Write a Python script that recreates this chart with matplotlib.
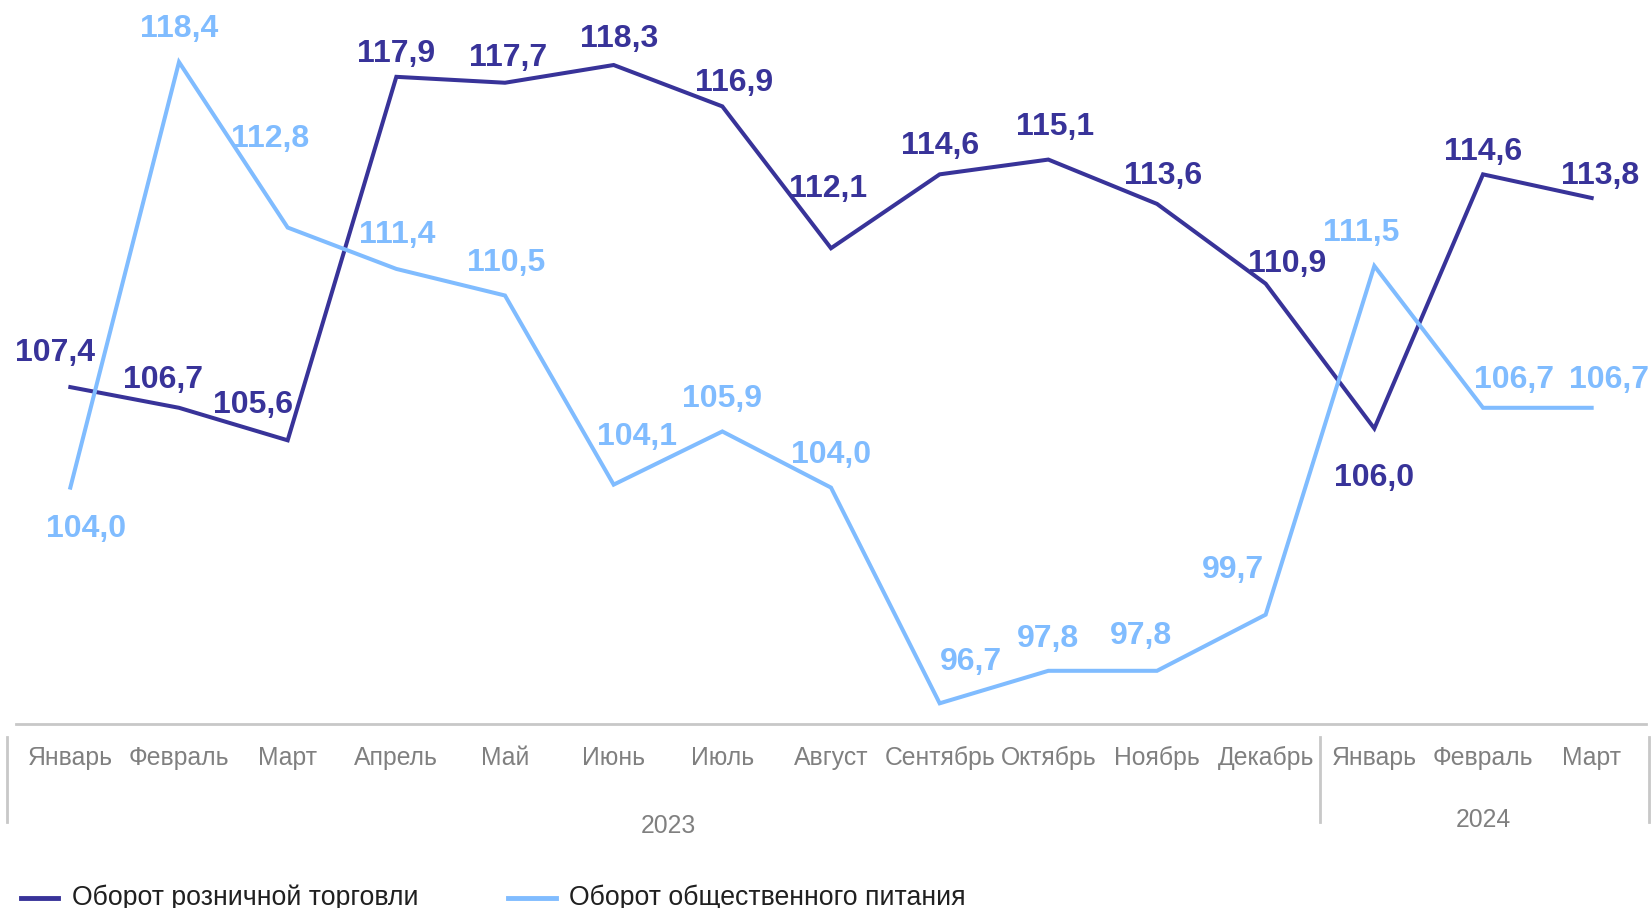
import numpy as np
import matplotlib.pyplot as plt
from matplotlib.lines import Line2D

plt.rcParams['font.family'] = ['Liberation Sans', 'DejaVu Sans']

# data
months = ['Январь', 'Февраль', 'Март', 'Апрель', 'Май', 'Июнь', 'Июль', 'Август',
          'Сентябрь', 'Октябрь', 'Ноябрь', 'Декабрь', 'Январь', 'Февраль', 'Март']
years = ['2023', '2024']
year_len = [12, 3]
retail = [107.4, 106.7, 105.6, 117.9, 117.7, 118.3, 116.9, 112.1,
          114.6, 115.1, 113.6, 110.9, 106.0, 114.6, 113.8]
catering = [104.0, 118.4, 112.8, 111.4, 110.5, 104.1, 105.9, 104.0,
            96.7, 97.8, 97.8, 99.7, 111.5, 106.7, 106.7]
names = ['Оборот розничной торговли', 'Оборот общественного питания']

# label offsets in pixels (dx, dy) relative to the point, dy positive = up
retail_off = [(-15, 37), (-16, 31), (-35, 38), (0, 26), (3, 28), (5, 29), (12, 26), (-3, 62),
              (0, 31), (7, 36), (6, 31), (21, 23), (0, -47), (0, 25), (8, 25)]
catering_off = [(16, -38), (0, 36), (-18, 92), (1, 37), (1, 36), (23, 51), (0, 35), (0, 36),
                (31, 44), (0, 35), (-16, 38), (-33, 48), (-13, 36), (31, 31), (17, 31)]
shift = -3  # small vertical correction for all labels

dark = '#383399'
light = '#80BCFF'
grey = '#808080'

W, H = 1652, 908
fig = plt.figure(figsize=(W / 100, H / 100), dpi=100)
ax = fig.add_axes([16 / W, (H - 724) / H, 1630 / W, 724 / H])
x = np.arange(len(months))

ax.plot(x, retail, color=dark, lw=2.9, solid_joinstyle='miter')
ax.plot(x, catering, color=light, lw=2.9, solid_joinstyle='miter')

for xi, v, (dx, dy) in zip(x, retail, retail_off):
    ax.annotate(f'{v:.1f}'.replace('.', ','), (xi, v), xytext=(dx, dy + shift),
                textcoords='offset pixels', ha='center', va='center',
                fontsize=23, fontweight='bold', color=dark)
for xi, v, (dx, dy) in zip(x, catering, catering_off):
    ax.annotate(f'{v:.1f}'.replace('.', ','), (xi, v), xytext=(dx, dy + shift),
                textcoords='offset pixels', ha='center', va='center',
                fontsize=23, fontweight='bold', color=light)

ax.set_xlim(-0.5, len(months) - 0.5)
ax.set_ylim(96, 120.5)
for s in ['top', 'right', 'left']:
    ax.spines[s].set_visible(False)
ax.spines['bottom'].set_color('#C8C8C8')
ax.spines['bottom'].set_linewidth(2)
ax.set_yticks([])
ax.set_xticks(x)
ax.set_xticklabels(months, fontsize=17.8, color=grey)
ax.tick_params(axis='x', length=0, pad=16)

# year groups
trans = ax.get_xaxis_transform()
start = 0
bounds = [-0.58]
for yr, n in zip(years, year_len):
    mid = start + (n - 1) / 2
    ax.text(mid, -0.141 if yr == '2023' else -0.133, yr, transform=trans,
            ha='center', va='center', fontsize=17.8, color=grey)
    start += n
    bounds.append(start - 0.5)
bounds[-1] = start - 0.47
for b in bounds:
    ax.plot([b, b], [-0.018, -0.136], transform=trans, color='#C8C8C8',
            lw=2, clip_on=False)

# legend
ly = 1 - 898 / H
fig.add_artist(Line2D([21 / W, 58 / W], [ly, ly], color=dark, lw=3.5))
fig.text(72 / W, ly, names[0], fontsize=19.2, color='#202020', va='center')
fig.add_artist(Line2D([508 / W, 556 / W], [ly, ly], color=light, lw=3.5))
fig.text(569 / W, ly, names[1], fontsize=19.2, color='#202020', va='center')

fig.savefig('out.png', dpi=100)
